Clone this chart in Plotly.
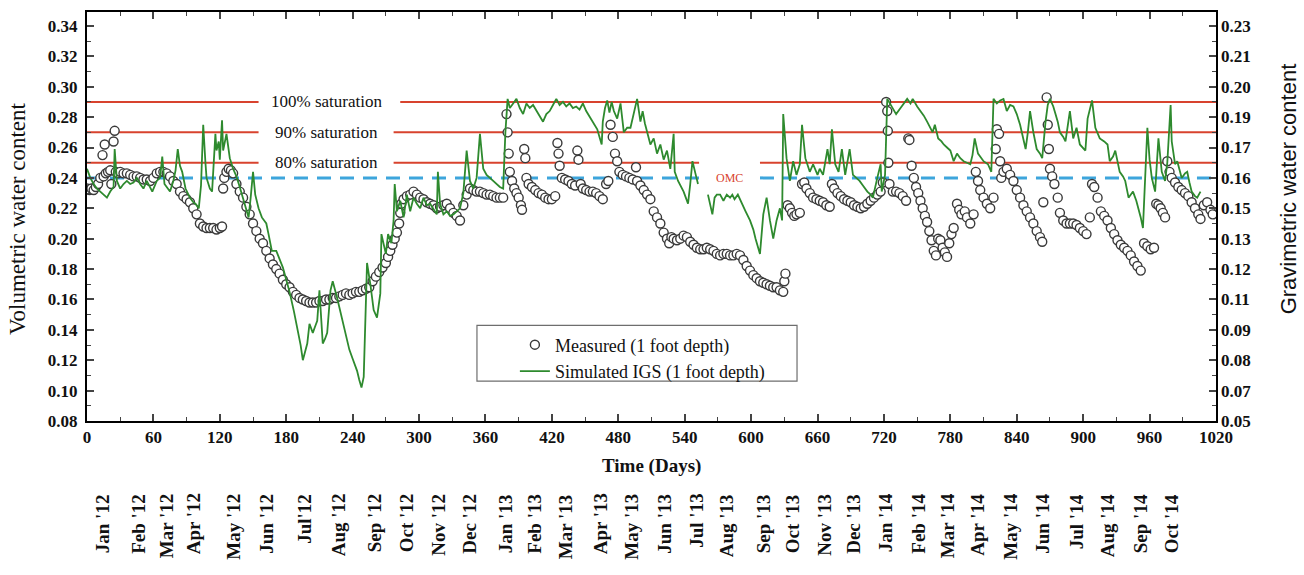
import plotly.graph_objects as go

# ---------------- data ----------------
meas_day = [0,2,4,6,8,10,12,14,15,16,17,19,21,22,24,25,26,28,30,33,36,39,42,45,48,51,54,57,60,63,66,69,72,75,78,81,84,87,90,93,96,99,102,105,108,111,114,117,120,122,123,124,126,128,130,132,135,138,141,144,147,150,153,156,159,162,165,168,171,174,177,180,183,186,189,192,195,198,201,204,207,210,213,216,219,222,225,228,231,234,237,240,243,246,249,252,255,258,261,264,267,270,272,274,276,278,280,282,283,284,286,289,292,295,298,301,304,307,310,313,316,319,322,325,328,331,334,337,340,343,346,349,352,355,358,361,364,367,370,373,376,379,380,381,382,384,386,388,390,392,393,395,396,397,399,402,405,408,411,414,417,420,423,425,426,427,429,432,435,438,441,443,444,446,448,451,454,457,460,463,466,469,471,473,475,477,479,481,484,487,490,493,496,497,500,503,506,509,512,515,518,521,524,526,528,530,533,536,539,542,545,548,551,554,557,560,563,566,569,572,575,578,581,584,587,590,593,596,599,602,605,608,611,614,617,620,623,626,629,630,631,633,635,637,639,641,644,646,648,650,653,656,659,662,665,668,671,673,675,678,681,684,687,690,693,696,699,702,705,708,711,714,717,719,722,723,723.5,724,725,728,731,734,737,740,742,743,745,747,749,751,753,755,757,759,761,763,765,767,769,771,773,775,777,779,781,783,786,788,790,793,795,798,801,803,805,807,810,813,816,819,821,822,824,825,826,828,831,834,837,840,843,846,849,852,855,858,861,863,864,867,868,869,870,872,874,877,879,882,885,888,891,894,897,900,903,906,908,910,913,916,919,922,925,928,931,934,937,940,943,946,949,952,955,958,961,964,966,968,970,972,974,976,978,980,983,986,989,992,995,998,1001,1004,1006,1009,1012,1015,1017]
meas_vwc = [0.233,0.232,0.233,0.232,0.234,0.236,0.240,0.255,0.241,0.262,0.243,0.244,0.245,0.236,0.264,0.271,0.244,0.243,0.244,0.243,0.243,0.242,0.241,0.241,0.240,0.239,0.239,0.238,0.240,0.243,0.244,0.244,0.243,0.241,0.238,0.236,0.231,0.228,0.226,0.224,0.220,0.216,0.210,0.208,0.207,0.207,0.207,0.206,0.207,0.208,0.233,0.240,0.244,0.246,0.245,0.243,0.236,0.231,0.227,0.221,0.216,0.210,0.205,0.200,0.197,0.192,0.187,0.183,0.180,0.177,0.173,0.170,0.168,0.165,0.163,0.161,0.160,0.159,0.158,0.158,0.158,0.159,0.159,0.160,0.160,0.161,0.161,0.162,0.163,0.164,0.163,0.164,0.165,0.165,0.166,0.167,0.168,0.172,0.175,0.178,0.181,0.184,0.188,0.192,0.196,0.200,0.204,0.210,0.217,0.223,0.226,0.228,0.229,0.231,0.229,0.227,0.226,0.224,0.223,0.222,0.220,0.221,0.222,0.223,0.220,0.217,0.215,0.212,0.222,0.229,0.233,0.232,0.231,0.231,0.230,0.229,0.229,0.228,0.227,0.227,0.227,0.282,0.270,0.256,0.244,0.238,0.233,0.230,0.227,0.222,0.219,0.259,0.253,0.240,0.236,0.234,0.232,0.230,0.229,0.227,0.226,0.226,0.228,0.263,0.256,0.248,0.240,0.239,0.238,0.236,0.235,0.258,0.252,0.236,0.233,0.232,0.231,0.231,0.230,0.228,0.226,0.236,0.238,0.275,0.267,0.256,0.251,0.244,0.242,0.241,0.240,0.239,0.247,0.238,0.235,0.232,0.229,0.226,0.218,0.214,0.210,0.204,0.200,0.197,0.201,0.200,0.199,0.200,0.202,0.201,0.198,0.196,0.194,0.193,0.193,0.194,0.193,0.192,0.190,0.189,0.190,0.190,0.189,0.189,0.190,0.189,0.186,0.182,0.179,0.176,0.174,0.172,0.171,0.170,0.169,0.168,0.168,0.166,0.165,0.172,0.177,0.222,0.220,0.217,0.215,0.216,0.217,0.236,0.237,0.233,0.230,0.227,0.226,0.225,0.224,0.222,0.221,0.236,0.233,0.230,0.228,0.226,0.225,0.224,0.222,0.221,0.220,0.221,0.223,0.225,0.227,0.229,0.231,0.237,0.290,0.284,0.271,0.250,0.236,0.231,0.231,0.230,0.228,0.225,0.266,0.265,0.248,0.240,0.234,0.230,0.225,0.220,0.215,0.211,0.205,0.199,0.192,0.189,0.200,0.199,0.194,0.191,0.188,0.197,0.203,0.207,0.223,0.219,0.216,0.218,0.214,0.210,0.216,0.244,0.238,0.232,0.227,0.223,0.220,0.227,0.259,0.272,0.269,0.251,0.240,0.244,0.246,0.242,0.238,0.232,0.227,0.222,0.218,0.214,0.210,0.205,0.201,0.198,0.224,0.293,0.275,0.259,0.246,0.241,0.236,0.227,0.217,0.212,0.210,0.210,0.210,0.209,0.207,0.205,0.203,0.214,0.236,0.234,0.227,0.218,0.215,0.212,0.207,0.203,0.199,0.196,0.194,0.192,0.189,0.185,0.182,0.179,0.197,0.195,0.193,0.194,0.223,0.222,0.220,0.217,0.214,0.251,0.244,0.240,0.237,0.234,0.232,0.230,0.228,0.224,0.220,0.216,0.213,0.222,0.224,0.219,0.216]

sim_day = [0,3,6,9,12,15,18,21,24,25,27,30,33,36,39,42,45,48,51,54,57,59,63,66,68,70,73,75,78,80,82,84,86,89,93,96,98,101,103,105,107,108,111,113,116,117,119,120,122,123,126,129,132,135,138,141,144,146,148,150,152,155,158,160,162,164,167,171,174,177,180,183,187,190,193,195,197,199,201,204,206,208,210,213,215,217,220,222,226,229,231,234,237,240,244,246,248,250,253,256,259,262,265,266,268,270,272,275,277,278,280,283,286,289,292,295,298,301,304,307,310,313,316,317,319,322,325,328,331,334,337,340,343,346,349,352,355,358,361,364,367,370,373,376,378,380,382,385,388,391,394,397,400,403,406,409,412,415,418,421,424,427,430,433,436,439,442,445,448,451,455,458,461,463,465,466,468,470,472,474,476,479,482,485,488,491,494,497,500,502,504,506,509,512,515,518,521,524,527,530,531,534,537,539,541,543,545,547,550,552,556,561,563,565,567,569,572,575,578,581,583,585,588,591,595,599,602,604,606,608,611,614,617,620,623,626,628,629,632,635,638,641,644,646,649,653,656,660,662,665,669,671,673,676,679,682,685,689,692,695,698,701,705,708,710,714,717,718,721,723,726,728,731,735,738,741,744,746,750,753,756,759,762,764,766,769,772,774,777,780,783,786,789,792,795,798,800,802,805,808,810,814,817,819,822,825,828,831,834,837,840,843,846,848,850,852,855,858,861,863,866,868,870,873,875,877,879,882,884,888,891,894,897,900,902,904,906,908,911,915,919,922,924,927,929,931,933,936,938,941,945,948,950,952,954,956,958,960,962,965,968,971,974,976,979,980,983,985,987,989,992,994,996,998,1001,1003,1006]
sim_vwc = [0.246,0.240,0.236,0.233,0.231,0.229,0.227,0.231,0.234,0.259,0.238,0.233,0.236,0.238,0.236,0.237,0.240,0.236,0.233,0.238,0.234,0.231,0.238,0.240,0.254,0.236,0.233,0.231,0.238,0.245,0.259,0.248,0.244,0.233,0.227,0.224,0.223,0.220,0.235,0.275,0.250,0.240,0.233,0.231,0.269,0.258,0.264,0.252,0.278,0.258,0.269,0.253,0.246,0.241,0.234,0.227,0.220,0.214,0.228,0.244,0.229,0.220,0.214,0.212,0.210,0.203,0.192,0.192,0.187,0.181,0.173,0.165,0.152,0.142,0.130,0.120,0.125,0.131,0.144,0.138,0.142,0.146,0.166,0.131,0.134,0.138,0.166,0.172,0.161,0.152,0.144,0.135,0.127,0.121,0.113,0.107,0.102,0.109,0.184,0.170,0.153,0.148,0.164,0.203,0.196,0.190,0.203,0.197,0.212,0.236,0.218,0.225,0.214,0.229,0.218,0.227,0.223,0.220,0.227,0.222,0.223,0.219,0.216,0.244,0.223,0.216,0.218,0.215,0.216,0.218,0.220,0.230,0.258,0.238,0.233,0.240,0.269,0.246,0.242,0.240,0.238,0.236,0.234,0.233,0.270,0.292,0.286,0.289,0.292,0.286,0.282,0.289,0.286,0.288,0.284,0.280,0.277,0.282,0.284,0.288,0.292,0.288,0.290,0.287,0.289,0.286,0.287,0.285,0.289,0.284,0.279,0.276,0.272,0.267,0.262,0.277,0.286,0.291,0.283,0.290,0.284,0.279,0.289,0.270,0.273,0.273,0.282,0.292,0.277,0.284,0.276,0.270,0.262,0.266,0.256,0.262,0.252,0.258,0.246,0.269,0.244,0.238,0.234,0.231,0.227,0.223,0.236,0.251,0.242,0.236,None,0.229,0.222,0.216,0.227,0.229,0.229,0.225,0.229,0.227,0.229,0.226,0.229,0.224,0.218,0.212,0.206,0.200,0.195,0.190,0.216,0.227,0.212,0.200,0.212,0.220,0.212,0.282,0.253,0.238,0.251,0.242,0.249,0.275,0.253,0.244,0.249,0.242,0.246,0.242,0.259,0.249,0.272,0.249,0.244,0.259,0.242,0.259,0.242,0.240,0.238,0.235,0.231,0.229,0.227,0.240,0.249,0.231,0.242,0.292,0.288,0.286,0.282,0.286,0.289,0.292,0.289,0.292,0.287,0.284,0.281,0.277,0.273,0.270,0.275,0.266,0.264,0.262,0.260,0.258,0.251,0.256,0.253,0.251,0.250,0.249,0.255,0.266,0.256,0.253,0.251,0.249,0.244,0.292,0.289,0.291,0.292,0.284,0.288,0.287,0.282,0.275,0.265,0.259,0.270,0.284,0.270,0.259,0.256,0.253,0.277,0.288,0.292,0.287,0.282,0.277,0.270,0.267,0.264,0.284,0.266,0.273,0.262,0.260,0.258,0.279,0.285,0.291,0.273,0.266,0.264,0.262,0.251,0.254,0.258,0.250,0.244,0.241,0.238,0.227,0.231,0.225,0.220,0.214,0.207,0.240,0.273,0.252,0.240,0.231,0.266,0.244,0.238,0.250,0.288,0.264,0.249,0.251,0.246,0.240,0.243,0.244,0.237,0.231,0.228,0.227,0.231]

# reference lines (volumetric water content)
sat_names = ["100% saturation", "90% saturation", "80% saturation"]
sat_values = [0.29, 0.27, 0.25]
sat_gaps = [(155, 283), (155, 277), (155, 277)]   # label gaps (days)
omc_value = 0.24
omc_gap = (553, 608)
x_max = 1020

# axis ticks
vwc_ticks = [0.08, 0.10, 0.12, 0.14, 0.16, 0.18, 0.20, 0.22, 0.24, 0.26, 0.28, 0.30, 0.32, 0.34]
gwc_labels = ["0.05", "0.07", "0.08", "0.09", "0.11", "0.12", "0.13", "0.15", "0.16", "0.17", "0.19", "0.20", "0.21", "0.23"]
day_ticks = list(range(0, 1021, 60))

# month labels along the time axis
month_names = ["Jan '12", "Feb '12", "Mar '12", "Apr '12", "May '12", "Jun '12", "Jul'12", "Aug '12", "Sep '12", "Oct '12", "Nov '12", "Dec '12",
               "Jan '13", "Feb '13", "Mar '13", "Apr '13", "May '13", "Jun '13", "Jul '13", "Aug '13", "Sep '13", "Oct '13", "Nov '13", "Dec '13",
               "Jan '14", "Feb '14", "Mar '14", "Apr '14", "May '14", "Jun '14", "Jul '14", "Aug '14", "Sep '14", "Oct '14"]
month_days = [13.5, 47, 71.4, 95.8, 132.8, 162.6, 197, 226.8, 259.3, 288.2, 318, 346,
              377.6, 404.7, 431.8, 463.5, 492.4, 522.2, 551.1, 577.3, 610.7, 636.9, 666.7, 693,
              721, 751.6, 777, 805, 834.8, 863.7, 893.5, 921.5, 951.3, 979.3]

# ---------------- figure ----------------
RED = "#d8432e"
BLUE = "#3da5dc"
GREEN = "#2e8a2e"
SERIF = "Liberation Serif"

fig = go.Figure()

# saturation lines (with gaps for their labels)
for name, v, (g0, g1) in zip(sat_names, sat_values, sat_gaps):
    xs = [0, g0, None, g1, x_max]
    ys = [v, v, None, v, v]
    if v == 0.25:
        xs = [0, g0, None, g1, omc_gap[0], None, omc_gap[1], x_max]
        ys = [v, v, None, v, v, None, v, v]
    fig.add_trace(go.Scatter(x=xs, y=ys, mode="lines", line=dict(color=RED, width=2),
                             showlegend=False, hoverinfo="skip"))
    fig.add_annotation(x=(g0 + 277) / 2, y=v, text=name, showarrow=False,
                       font=dict(family=SERIF, size=17, color="#111"), xanchor="center", yanchor="middle")

# OMC line
fig.add_trace(go.Scatter(x=[0, omc_gap[0], None, omc_gap[1], x_max],
                         y=[omc_value, omc_value, None, omc_value, omc_value],
                         mode="lines", line=dict(color=BLUE, width=3, dash="14px,9px"),
                         showlegend=False, hoverinfo="skip"))
fig.add_annotation(x=(omc_gap[0] + omc_gap[1]) / 2, y=omc_value, text="OMC", showarrow=False,
                   font=dict(family=SERIF, size=12, color=RED), xanchor="center", yanchor="middle")

# data
fig.add_trace(go.Scatter(x=meas_day, y=meas_vwc, mode="markers", name="Measured (1 foot depth)",
                         marker=dict(symbol="circle", size=9, color="white",
                                     line=dict(color="#3a3a3a", width=1.4))))
fig.add_trace(go.Scatter(x=sim_day, y=sim_vwc, mode="lines", name="Simulated IGS (1 foot depth)",
                         line=dict(color=GREEN, width=1.8), connectgaps=False))

# invisible trace to activate the right axis
fig.add_trace(go.Scatter(x=[0, x_max], y=[vwc_ticks[0], vwc_ticks[-1]], yaxis="y2", mode="markers",
                         marker=dict(opacity=0), showlegend=False, hoverinfo="skip"))

tickfont = dict(family=SERIF, size=17, color="#111", weight="bold")

fig.update_layout(
    width=1304, height=575,
    margin=dict(l=87, r=88, t=10, b=154),
    paper_bgcolor="white", plot_bgcolor="white",
    showlegend=True,
    legend=dict(x=0.379, y=0.2311, xanchor="left", yanchor="top", bgcolor="rgba(0,0,0,0)",
                borderwidth=0, font=dict(family=SERIF, size=18, color="#111"),
                tracegroupgap=0),
    xaxis=dict(range=[0, x_max], tickvals=day_ticks, ticks="inside", ticklen=7, tickwidth=1.5,
               showline=True, linecolor="black", linewidth=2, mirror="ticks", showgrid=False,
               zeroline=False, tickfont=tickfont,
               minor=dict(dtick=30, ticks="inside", ticklen=4, tickwidth=1.2, tick0=0)),
    yaxis=dict(range=[0.08, 0.3492], tickvals=vwc_ticks, tickformat=".2f", ticks="inside", ticklen=7,
               tickwidth=1.5, showline=True, linecolor="black", linewidth=2, mirror=True,
               showgrid=False, zeroline=False, tickfont=tickfont, ticklabelstandoff=4,
               minor=dict(dtick=0.01, ticks="inside", ticklen=4, tickwidth=1.2, tick0=0.08)),
    yaxis2=dict(range=[0.08, 0.3492], overlaying="y", side="right", tickvals=vwc_ticks,
                ticktext=gwc_labels, ticks="inside", ticklen=7, tickwidth=1.5, showline=False,
                showgrid=False, zeroline=False, tickfont=tickfont, ticklabelstandoff=4,
                minor=dict(dtick=0.01, ticks="inside", ticklen=4, tickwidth=1.2, tick0=0.08)),
)

# legend box
fig.add_shape(type="rect", xref="paper", yref="paper", x0=0.3454, x1=0.6289, y0=0.0973, y1=0.2336,
              line=dict(color="#6e6e6e", width=1.2), fillcolor="white", layer="below")

# axis titles
fig.add_annotation(xref="paper", yref="paper", x=-0.061, y=0.494, text="Volumetric water content",
                   textangle=-90, showarrow=False, font=dict(family=SERIF, size=23, color="#111"),
                   xanchor="center", yanchor="middle")
fig.add_annotation(xref="paper", yref="paper", x=1.064, y=0.567, text="Gravimetric water content",
                   textangle=-90, showarrow=False, font=dict(family="Liberation Sans", size=22, color="#111"),
                   xanchor="center", yanchor="middle")
fig.add_annotation(xref="paper", yref="paper", x=0.5, y=-0.1095, text="Time (Days)",
                   showarrow=False, font=dict(family=SERIF, size=19, color="#111", weight="bold"),
                   xanchor="center", yanchor="middle")

# month labels
for name, d in zip(month_names, month_days):
    fig.add_annotation(x=d, xref="x", yref="paper", y=-0.173, text=name, textangle=-90,
                       showarrow=False, font=dict(family=SERIF, size=19, color="#111", weight="bold"),
                       xanchor="center", yanchor="top")

fig.write_html("out.html", config={"displayModeBar": False},
               post_script="document.body.style.margin='0px';document.body.style.overflow='hidden';")
